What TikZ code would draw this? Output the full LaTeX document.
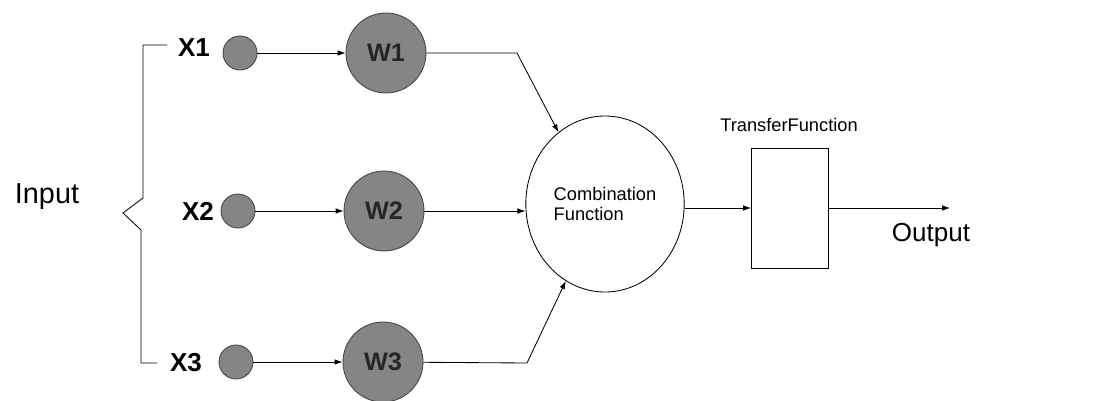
\documentclass[tikz,border=0pt]{standalone}
\usepackage{fontspec}
\setmainfont{Liberation Sans}
\usepackage{xcolor}
\usetikzlibrary{shapes, arrows.meta, positioning}
\definecolor{NodeGray}{HTML}{858585}
\definecolor{EdgeGray}{HTML}{444444}

\begin{document}
\begin{tikzpicture}[x=0.25mm, y=-0.25mm,
  inbox/.style={circle, draw=EdgeGray, fill=NodeGray, line width=0.6pt, minimum size=8.5mm, inner sep=0pt},
  wbox/.style={circle, draw=EdgeGray, fill=NodeGray, line width=0.6pt, minimum size=20mm, inner sep=0pt, font=\fontsize{18}{20}\selectfont\bfseries, text=black!85},
  xlab/.style={font=\fontsize{18.5}{20}\selectfont\bfseries, inner sep=0pt},
  link/.style={line width=0.6pt, -{Latex[length=2mm, width=1.4mm]}},
  ]
  \useasboundingbox (0,0) rectangle (1100,400);
  % inputs
  \node[font=\fontsize{20.5}{22}\selectfont, inner sep=0pt] (input) at (47,197) {Input};
  \draw[line width=0.6pt] (167,45) -- (143,45) -- (143,198) -- (123,213) -- (141,230) -- (141,363) -- (157,363);
  \node[xlab] (lx1) at (194,48) {X1};
  \node[xlab] (lx2) at (198,211) {X2};
  \node[xlab] (lx3) at (186,363) {X3};
  \node[inbox] (x1) at (240,53) {};
  \node[inbox] (x2) at (238,211) {};
  \node[inbox] (x3) at (236,362) {};
  % weights
  \node[wbox] (w1) at (386,53) {W1};
  \node[wbox] (w2) at (384,211) {W2};
  \node[wbox] (w3) at (383,362) {W3};
  \draw[link] (x1) -- (w1);
  \draw[link] (x2) -- (w2);
  \draw[link] (x3) -- (w3);
  % combination and transfer
  \node[ellipse, draw, line width=0.6pt, minimum width=35mm, minimum height=44mm, align=left,
        font=\fontsize{13}{14.5}\selectfont] (comb) at (605,204) {Combination\\Function};
  \coordinate (b1) at (517,53);
  \coordinate (b3) at (527,363);
  \draw[link] (w1) -- (b1) -- (comb.123);
  \draw[link] (w2.east) -- (w2.east -| comb.west);
  \draw[link] (w3) -- (b3) -- (comb.243);
  \node[draw, line width=0.6pt, minimum width=19.25mm, minimum height=30mm] (tf) at (790,208) {};
  \node[font=\fontsize{13}{14}\selectfont, inner sep=0pt] (tflab) at (789,125) {TransferFunction};
  \draw[link] (comb.east |- tf) -- (tf);
  \coordinate (out) at (950,208);
  \draw[link] (tf) -- (out);
  \node[font=\fontsize{18.5}{20}\selectfont, inner sep=0pt] (outlab) at (931,235) {Output};
\end{tikzpicture}
\end{document}
